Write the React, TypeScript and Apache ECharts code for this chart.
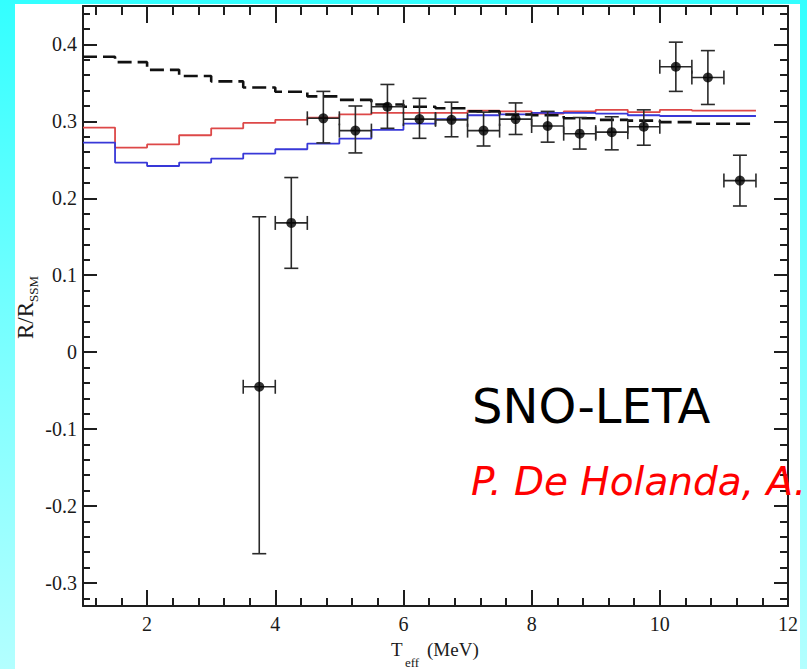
import React, { useEffect, useRef } from "react";
import * as echarts from "echarts";

// Step-model bins (left edges + final right edge) in T_eff (MeV)
const binEdges = [1, 1.5, 2, 2.5, 3, 3.5, 4, 4.5, 5, 5.5, 6, 6.5, 7, 7.5, 8, 8.5, 9, 9.5, 10, 10.5, 11, 11.5];
const redValues = [0.292, 0.266, 0.27, 0.282, 0.291, 0.298, 0.302, 0.305, 0.309, 0.311, 0.311, 0.311, 0.314, 0.313, 0.31, 0.313, 0.315, 0.312, 0.315, 0.314, 0.314];
const blueValues = [0.2725, 0.2464, 0.242, 0.2464, 0.2516, 0.2581, 0.2638, 0.2712, 0.2777, 0.289, 0.297, 0.303, 0.308, 0.309, 0.311, 0.311, 0.31, 0.308, 0.307, 0.307, 0.307];
const dashedValues = [0.384, 0.377, 0.367, 0.359, 0.352, 0.344, 0.3385, 0.3325, 0.328, 0.322, 0.319, 0.317, 0.313, 0.309, 0.308, 0.304, 0.302, 0.301, 0.299, 0.297, 0.297];

// SNO-LETA data points
const pointX = [3.75, 4.25, 4.75, 5.25, 5.75, 6.25, 6.75, 7.25, 7.75, 8.25, 8.75, 9.25, 9.75, 10.25, 10.75, 11.25];
const pointY = [-0.045, 0.168, 0.304, 0.288, 0.319, 0.303, 0.302, 0.288, 0.303, 0.294, 0.284, 0.286, 0.293, 0.371, 0.357, 0.223];
const errHigh = [0.176, 0.227, 0.339, 0.32, 0.348, 0.33, 0.325, 0.312, 0.324, 0.313, 0.305, 0.306, 0.315, 0.403, 0.392, 0.256];
const errLow = [-0.262, 0.109, 0.272, 0.259, 0.291, 0.278, 0.28, 0.268, 0.283, 0.273, 0.264, 0.263, 0.269, 0.339, 0.322, 0.19];
const binHalfWidth = 0.25;

// Axis ticks
const xMajor = [2, 4, 6, 8, 10, 12];
const xMinor = [1.2, 1.6, 2.4, 2.8, 3.2, 3.6, 4.4, 4.8, 5.2, 5.6, 6.4, 6.8, 7.2, 7.6, 8.4, 8.8, 9.2, 9.6, 10.4, 10.8, 11.2, 11.6];
const yMajor = [-0.3, -0.2, -0.1, 0, 0.1, 0.2, 0.3, 0.4];
const yMinor = [-0.32, -0.28, -0.26, -0.24, -0.22, -0.18, -0.16, -0.14, -0.12, -0.08, -0.06, -0.04, -0.02, 0.02, 0.04, 0.06, 0.08, 0.12, 0.14, 0.16, 0.18, 0.22, 0.24, 0.26, 0.28, 0.32, 0.34, 0.36, 0.38, 0.42, 0.44];

const X_MIN = 1, X_MAX = 12, Y_MIN = -0.33, Y_MAX = 0.45;
const AXIS_COLOR = "#1e1e1e";
const SERIF = "'Liberation Serif', 'Times New Roman', serif";

function stepData(values: number[]) {
  return binEdges.map((e, i) => [e, values[Math.min(i, values.length - 1)]]);
}

function xAxisDef(position: string, ticks: number[], len: number, showLine: boolean, showLabels: boolean) {
  return {
    type: "value",
    position,
    min: X_MIN,
    max: X_MAX,
    axisLine: { show: showLine, onZero: false, lineStyle: { color: AXIS_COLOR, width: 2 } },
    axisTick: { show: true, inside: true, length: len, customValues: ticks, lineStyle: { color: AXIS_COLOR, width: 2 } },
    axisLabel: {
      show: showLabels,
      customValues: ticks,
      margin: 8,
      fontSize: 20,
      fontFamily: SERIF,
      color: "#1a1a1a",
    },
    splitLine: { show: false },
  };
}

function yAxisDef(position: string, ticks: number[], len: number, showLine: boolean, showLabels: boolean) {
  return {
    type: "value",
    position,
    min: Y_MIN,
    max: Y_MAX,
    axisLine: { show: showLine, onZero: false, lineStyle: { color: AXIS_COLOR, width: 2 } },
    axisTick: { show: true, inside: true, length: len, customValues: ticks, lineStyle: { color: AXIS_COLOR, width: 2 } },
    axisLabel: {
      show: showLabels,
      customValues: ticks,
      margin: 6,
      fontSize: 20,
      fontFamily: SERIF,
      color: "#1a1a1a",
    },
    splitLine: { show: false },
  };
}

export default function App() {
  const ref = useRef<HTMLDivElement>(null);

  useEffect(() => {
    if (!ref.current) return;
    const chart = echarts.init(ref.current, null, { renderer: "svg" });

    const errData = pointX.map((x, i) => [x, pointY[i], errLow[i], errHigh[i], x - binHalfWidth, x + binHalfWidth]);

    const option: any = {
      animation: false,
      backgroundColor: "transparent",
      grid: { left: 83, right: 19, top: 6, bottom: 63 },
      xAxis: [
        xAxisDef("bottom", xMajor, 16, true, true),
        xAxisDef("bottom", xMinor, 8, false, false),
        xAxisDef("top", xMajor, 17, true, false),
        xAxisDef("top", xMinor, 9, false, false),
      ],
      yAxis: [
        yAxisDef("left", yMajor, 14, true, true),
        yAxisDef("left", yMinor, 7, false, false),
        yAxisDef("right", yMajor, 14, true, false),
        yAxisDef("right", yMinor, 8, false, false),
      ],
      series: [
        {
          type: "line",
          name: "model A",
          xAxisIndex: 0,
          yAxisIndex: 0,
          step: "end",
          data: stepData(redValues),
          showSymbol: false,
          symbol: "none",
          lineStyle: { color: "#dd4848", width: 1.8 },
          z: 2,
        },
        {
          type: "line",
          name: "model B",
          xAxisIndex: 0,
          yAxisIndex: 0,
          step: "end",
          data: stepData(blueValues),
          showSymbol: false,
          symbol: "none",
          lineStyle: { color: "#3838d8", width: 1.8 },
          z: 2,
        },
        {
          type: "line",
          name: "no oscillation",
          xAxisIndex: 0,
          yAxisIndex: 0,
          step: "end",
          data: stepData(dashedValues),
          showSymbol: false,
          symbol: "none",
          lineStyle: { color: "#111", width: 2.6, type: [14, 6] },
          z: 2,
        },
        {
          type: "custom",
          name: "errors",
          xAxisIndex: 0,
          yAxisIndex: 0,
          data: errData,
          encode: { x: [0, 4, 5], y: [1, 2, 3] },
          renderItem: (params: any, api: any) => {
            const x = api.value(0);
            const y = api.value(1);
            const lo = api.value(2);
            const hi = api.value(3);
            const xl = api.value(4);
            const xh = api.value(5);
            const top = api.coord([x, hi]);
            const bot = api.coord([x, lo]);
            const left = api.coord([xl, y]);
            const right = api.coord([xh, y]);
            const cap = 7;
            const style = { stroke: "#2a2a2a", lineWidth: 1.6, fill: "none" };
            return {
              type: "group",
              children: [
                { type: "line", shape: { x1: top[0], y1: top[1], x2: bot[0], y2: bot[1] }, style },
                { type: "line", shape: { x1: top[0] - cap, y1: top[1], x2: top[0] + cap, y2: top[1] }, style },
                { type: "line", shape: { x1: bot[0] - cap, y1: bot[1], x2: bot[0] + cap, y2: bot[1] }, style },
                { type: "line", shape: { x1: left[0], y1: left[1], x2: right[0], y2: right[1] }, style },
                { type: "line", shape: { x1: left[0], y1: left[1] - cap, x2: left[0], y2: left[1] + cap }, style },
                { type: "line", shape: { x1: right[0], y1: right[1] - cap, x2: right[0], y2: right[1] + cap }, style },
              ],
            };
          },
          z: 3,
        },
        {
          type: "scatter",
          name: "SNO-LETA",
          xAxisIndex: 0,
          yAxisIndex: 0,
          data: pointX.map((x, i) => [x, pointY[i]]),
          symbol: "circle",
          symbolSize: 10,
          itemStyle: { color: "#000" },
          z: 4,
        },
      ],
      graphic: [
        // x-axis title: T_eff (MeV)
        { type: "text", x: 391, y: 649, style: { text: "T", font: `19px ${SERIF}`, fill: "#1a1a1a", align: "left", verticalAlign: "middle", textAlign: "left", textVerticalAlign: "middle" } },
        { type: "text", x: 405, y: 662, style: { text: "eff", font: `13px ${SERIF}`, fill: "#1a1a1a", align: "left", verticalAlign: "middle", textAlign: "left", textVerticalAlign: "middle" } },
        { type: "text", x: 427, y: 649, style: { text: "(MeV)", font: `19px ${SERIF}`, fill: "#1a1a1a", align: "left", verticalAlign: "middle", textAlign: "left", textVerticalAlign: "middle" } },
        // y-axis title: R/R_SSM
        { type: "text", x: 25, y: 339, rotation: Math.PI / 2, style: { text: "R/R", font: `23px ${SERIF}`, fill: "#1a1a1a", align: "left", verticalAlign: "middle", textAlign: "left", textVerticalAlign: "middle" } },
        { type: "text", x: 33, y: 302, rotation: Math.PI / 2, style: { text: "SSM", font: `13px ${SERIF}`, fill: "#1a1a1a", align: "left", verticalAlign: "middle", textAlign: "left", textVerticalAlign: "middle" } },
        // annotations
        { type: "text", x: 472, y: 406, z: 10, style: { text: "SNO-LETA", font: `48px 'Comic Sans MS', 'DejaVu Sans', sans-serif`, fill: "#000", align: "left", verticalAlign: "middle", textAlign: "left", textVerticalAlign: "middle" } },
        { type: "text", x: 471, y: 481, z: 10, style: { text: "P. De Holanda, A.", font: `italic 39px 'Comic Sans MS', 'DejaVu Sans', sans-serif`, fill: "#ff0000", align: "left", verticalAlign: "middle", textAlign: "left", textVerticalAlign: "middle" } },
      ],
    };

    chart.setOption(option);
    return () => chart.dispose();
  }, []);

  return (
    <div
      style={{
        position: "fixed",
        left: 0,
        top: 0,
        width: 807,
        height: 669,
        background: "linear-gradient(to bottom, #33ffff 0%, #7fffff 55%, #b3ffff 100%)",
        overflow: "hidden",
      }}
    >
      <div style={{ position: "absolute", left: 15, top: 4, width: 785, height: 665, background: "#ffffff" }} />
      <div ref={ref} style={{ position: "absolute", left: 0, top: 0, width: 807, height: 669 }} />
    </div>
  );
}
